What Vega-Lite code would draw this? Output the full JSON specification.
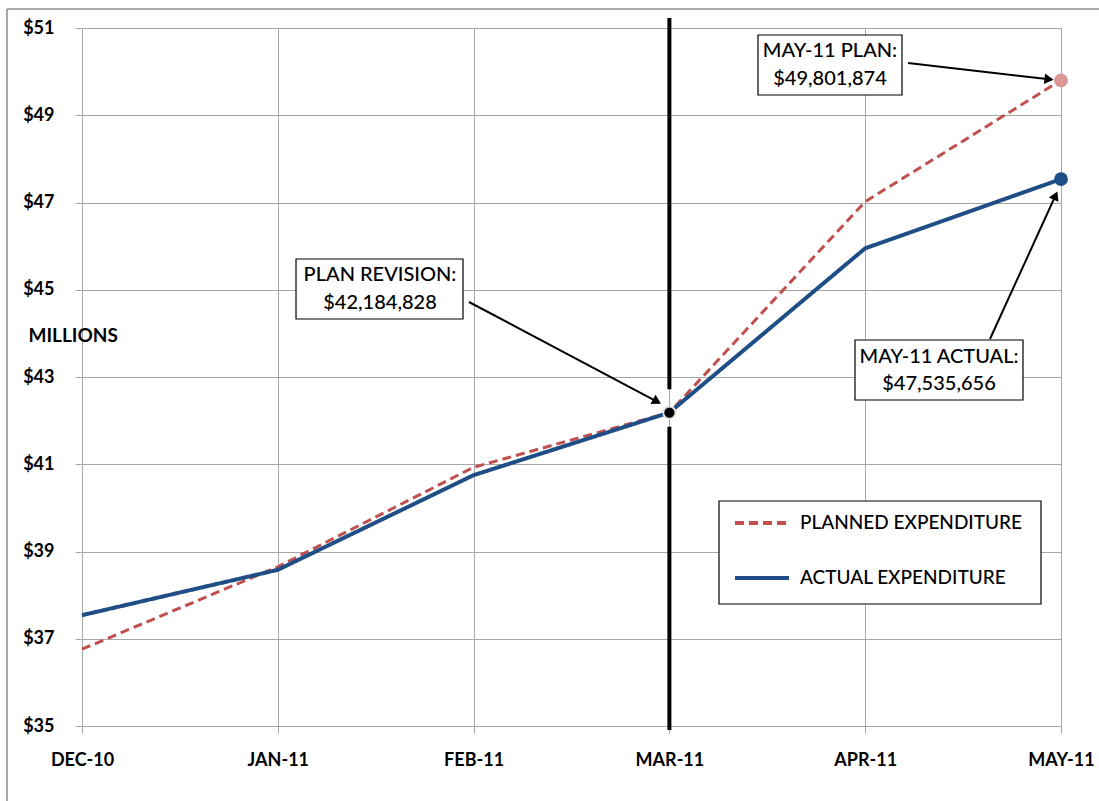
{
  "$schema": "https://vega.github.io/schema/vega-lite/v6.json",
  "width": 979,
  "height": 698,
  "autosize": {"type": "none"},
  "padding": {"left": 82, "top": 28, "right": 38, "bottom": 75},
  "background": "white",
  "config": {
    "view": {"stroke": null},
    "font": "Lato",
    "axis": {
      "gridColor": "#A6A6A6",
      "gridWidth": 1,
      "tickColor": "#A6A6A6",
      "tickSize": 7,
      "domain": false,
      "labelFont": "Lato",
      "labelFontWeight": "bold",
      "labelFontSize": 18,
      "labelColor": "black",
      "labelFlush": false,
      "labelOverlap": false
    },
    "legend": {
      "orient": "none",
      "legendX": 651,
      "legendY": 466,
      "symbolType": "stroke",
      "symbolSize": 2916,
      "symbolStrokeWidth": 4,
      "labelFont": "Lato",
      "labelFontSize": 19,
      "labelFontWeight": 500,
      "labelColor": "black",
      "labelOffset": 9,
      "labelLimit": 0,
      "rowPadding": 16,
      "padding": 0
    }
  },
  "data": {
    "values": [
      {"idx": 0, "month": "DEC-10", "series": "PLANNED EXPENDITURE", "value": 36.76},
      {"idx": 1, "month": "JAN-11", "series": "PLANNED EXPENDITURE", "value": 38.65},
      {"idx": 2, "month": "FEB-11", "series": "PLANNED EXPENDITURE", "value": 40.93},
      {"idx": 3, "month": "MAR-11", "series": "PLANNED EXPENDITURE", "value": 42.184828},
      {"idx": 4, "month": "APR-11", "series": "PLANNED EXPENDITURE", "value": 47.02},
      {"idx": 5, "month": "MAY-11", "series": "PLANNED EXPENDITURE", "value": 49.801874},
      {"idx": 0, "month": "DEC-10", "series": "ACTUAL EXPENDITURE", "value": 37.54},
      {"idx": 1, "month": "JAN-11", "series": "ACTUAL EXPENDITURE", "value": 38.58},
      {"idx": 2, "month": "FEB-11", "series": "ACTUAL EXPENDITURE", "value": 40.75},
      {"idx": 3, "month": "MAR-11", "series": "ACTUAL EXPENDITURE", "value": 42.184828},
      {"idx": 4, "month": "APR-11", "series": "ACTUAL EXPENDITURE", "value": 45.95},
      {"idx": 5, "month": "MAY-11", "series": "ACTUAL EXPENDITURE", "value": 47.535656}
    ]
  },
  "encoding": {
    "x": {
      "field": "idx",
      "type": "quantitative",
      "scale": {"domain": [0, 5], "nice": false, "zero": false},
      "axis": {
        "title": null,
        "values": [0, 1, 2, 3, 4, 5],
        "labelExpr": "['DEC-10','JAN-11','FEB-11','MAR-11','APR-11','MAY-11'][datum.value]",
        "labelPadding": 18,
        "grid": true
      }
    },
    "y": {
      "field": "value",
      "type": "quantitative",
      "scale": {"domain": [35, 51], "nice": false, "zero": false},
      "axis": {
        "values": [35, 37, 39, 41, 43, 45, 47, 49, 51],
        "labelExpr": "'$' + datum.value",
        "labelPadding": 21,
        "grid": true,
        "title": "MILLIONS",
        "titleAngle": 0,
        "titleAlign": "left",
        "titleBaseline": "middle",
        "titleX": -54,
        "titleY": 307,
        "titleFont": "Lato",
        "titleFontSize": 19,
        "titleFontWeight": "bold",
        "titleColor": "black"
      }
    }
  },
  "layer": [
    {
      "transform": [{"filter": "datum.idx == 0 && datum.series == 'ACTUAL EXPENDITURE'"}],
      "mark": {"type": "rule", "color": "#8C8C8C", "strokeWidth": 1.5},
      "encoding": {
        "x": {"datum": -0.3831},
        "y": {"datum": 51.4355},
        "y2": {"datum": 33.2}
      }
    },
    {
      "transform": [{"filter": "datum.idx == 0 && datum.series == 'ACTUAL EXPENDITURE'"}],
      "mark": {"type": "rule", "color": "#8C8C8C", "strokeWidth": 1.5},
      "encoding": {
        "x": {"datum": -0.3831},
        "x2": {"datum": 5.3},
        "y": {"datum": 51.4355}
      }
    },
    {
      "transform": [{"filter": "datum.series == 'PLANNED EXPENDITURE'"}],
      "mark": {"type": "line", "strokeWidth": 3},
      "encoding": {
        "color": {
          "field": "series",
          "type": "nominal",
          "scale": {"domain": ["PLANNED EXPENDITURE", "ACTUAL EXPENDITURE"], "range": ["#C0504D", "#1F4E86"]},
          "legend": {"title": null}
        },
        "strokeDash": {
          "field": "series",
          "type": "nominal",
          "scale": {"domain": ["PLANNED EXPENDITURE", "ACTUAL EXPENDITURE"], "range": [[9, 5], [1, 0]]},
          "legend": {"title": null}
        }
      }
    },
    {
      "transform": [{"filter": "datum.series == 'ACTUAL EXPENDITURE'"}],
      "mark": {"type": "line", "strokeWidth": 4},
      "encoding": {
        "color": {"field": "series", "type": "nominal", "legend": {"title": null}},
        "strokeDash": {"field": "series", "type": "nominal", "legend": {"title": null}}
      }
    },
    {
      "transform": [{"filter": "datum.idx == 0 && datum.series == 'ACTUAL EXPENDITURE'"}],
      "mark": {"type": "rule", "color": "black", "strokeWidth": 4},
      "encoding": {
        "x": {"datum": 3},
        "y": {"datum": 51.229},
        "y2": {"datum": 42.72}
      }
    },
    {
      "transform": [{"filter": "datum.idx == 0 && datum.series == 'ACTUAL EXPENDITURE'"}],
      "mark": {"type": "rule", "color": "black", "strokeWidth": 4},
      "encoding": {
        "x": {"datum": 3},
        "y": {"datum": 41.86},
        "y2": {"datum": 34.91}
      }
    },
    {
      "transform": [{"filter": "datum.idx == 3 && datum.series == 'ACTUAL EXPENDITURE'"}],
      "mark": {"type": "point", "filled": true, "fill": "black", "stroke": "#E0E0E0", "strokeWidth": 2, "size": 150, "opacity": 1}
    },
    {
      "transform": [{"filter": "datum.idx == 5"}],
      "mark": {"type": "point", "filled": true, "size": 190, "opacity": 1, "stroke": null},
      "encoding": {
        "fill": {
          "field": "series",
          "type": "nominal",
          "scale": {"domain": ["PLANNED EXPENDITURE", "ACTUAL EXPENDITURE"], "range": ["#D99694", "#1F4E86"]},
          "legend": null
        }
      }
    },
    {
      "transform": [{"filter": "datum.idx == 0 && datum.series == 'ACTUAL EXPENDITURE'"}],
      "mark": {"type": "rect", "fill": "white", "stroke": "black", "strokeWidth": 1.2},
      "encoding": {
        "x": {"datum": 3.2533}, "x2": {"datum": 4.8979},
        "y": {"datum": 40.158}, "y2": {"datum": 37.797}
      }
    },
    {
      "transform": [{"filter": "datum.idx == 0 && datum.series == 'ACTUAL EXPENDITURE'"}],
      "mark": {"type": "rule", "color": "black", "strokeWidth": 2},
      "encoding": {
        "x": {"datum": 1.9765}, "y": {"datum": 44.719},
        "x2": {"datum": 2.9367}, "y2": {"datum": 42.438}
      }
    },
    {
      "transform": [{"filter": "datum.idx == 0 && datum.series == 'ACTUAL EXPENDITURE'"}],
      "mark": {"type": "point", "shape": "triangle-up", "filled": true, "fill": "black", "strokeWidth": 0, "opacity": 1, "size": 110, "angle": 119},
      "encoding": {"x": {"datum": 2.9367}, "y": {"datum": 42.438}}
    },
    {
      "transform": [{"filter": "datum.idx == 0 && datum.series == 'ACTUAL EXPENDITURE'"}],
      "mark": {"type": "rule", "color": "black", "strokeWidth": 2},
      "encoding": {
        "x": {"datum": 4.2186}, "y": {"datum": 50.198},
        "x2": {"datum": 4.9387}, "y2": {"datum": 49.824}
      }
    },
    {
      "transform": [{"filter": "datum.idx == 0 && datum.series == 'ACTUAL EXPENDITURE'"}],
      "mark": {"type": "point", "shape": "triangle-up", "filled": true, "fill": "black", "strokeWidth": 0, "opacity": 1, "size": 110, "angle": 96.6},
      "encoding": {"x": {"datum": 4.9387}, "y": {"datum": 49.824}}
    },
    {
      "transform": [{"filter": "datum.idx == 0 && datum.series == 'ACTUAL EXPENDITURE'"}],
      "mark": {"type": "rule", "color": "black", "strokeWidth": 2},
      "encoding": {
        "x": {"datum": 4.6374}, "y": {"datum": 43.871},
        "x2": {"datum": 4.972}, "y2": {"datum": 47.16}
      }
    },
    {
      "transform": [{"filter": "datum.idx == 0 && datum.series == 'ACTUAL EXPENDITURE'"}],
      "mark": {"type": "point", "shape": "triangle-up", "filled": true, "fill": "black", "strokeWidth": 0, "opacity": 1, "size": 110, "angle": 24.5},
      "encoding": {"x": {"datum": 4.972}, "y": {"datum": 47.16}}
    },
    {
      "transform": [{"filter": "datum.idx == 0 && datum.series == 'ACTUAL EXPENDITURE'"}],
      "mark": {"type": "rect", "fill": "white", "stroke": "black", "strokeWidth": 1.2},
      "encoding": {
        "x": {"datum": 1.093}, "x2": {"datum": 1.9459},
        "y": {"datum": 45.705}, "y2": {"datum": 44.33}
      }
    },
    {
      "transform": [{"filter": "datum.idx == 0 && datum.series == 'ACTUAL EXPENDITURE'"}],
      "mark": {"type": "rect", "fill": "white", "stroke": "black", "strokeWidth": 1.2},
      "encoding": {
        "x": {"datum": 3.4525}, "x2": {"datum": 4.1879},
        "y": {"datum": 50.84}, "y2": {"datum": 49.464}
      }
    },
    {
      "transform": [{"filter": "datum.idx == 0 && datum.series == 'ACTUAL EXPENDITURE'"}],
      "mark": {"type": "rect", "fill": "white", "stroke": "black", "strokeWidth": 1.2},
      "encoding": {
        "x": {"datum": 3.9479}, "x2": {"datum": 4.8059},
        "y": {"datum": 43.848}, "y2": {"datum": 42.473}
      }
    },
    {
      "transform": [{"filter": "datum.idx == 0 && datum.series == 'ACTUAL EXPENDITURE'"}],
      "mark": {"type": "text", "font": "Lato", "fontSize": 20, "fontWeight": 500, "fill": "black", "align": "center", "baseline": "middle"},
      "encoding": {"x": {"datum": 1.522}, "y": {"datum": 45.338}, "text": {"value": "PLAN REVISION:"}}
    },
    {
      "transform": [{"filter": "datum.idx == 0 && datum.series == 'ACTUAL EXPENDITURE'"}],
      "mark": {"type": "text", "font": "Lato", "fontSize": 20, "fontWeight": 500, "fill": "black", "align": "center", "baseline": "middle"},
      "encoding": {"x": {"datum": 1.522}, "y": {"datum": 44.696}, "text": {"value": "$42,184,828"}}
    },
    {
      "transform": [{"filter": "datum.idx == 0 && datum.series == 'ACTUAL EXPENDITURE'"}],
      "mark": {"type": "text", "font": "Lato", "fontSize": 20, "fontWeight": 500, "fill": "black", "align": "center", "baseline": "middle"},
      "encoding": {"x": {"datum": 3.8202}, "y": {"datum": 50.473}, "text": {"value": "MAY-11 PLAN:"}}
    },
    {
      "transform": [{"filter": "datum.idx == 0 && datum.series == 'ACTUAL EXPENDITURE'"}],
      "mark": {"type": "text", "font": "Lato", "fontSize": 20, "fontWeight": 500, "fill": "black", "align": "center", "baseline": "middle"},
      "encoding": {"x": {"datum": 3.8202}, "y": {"datum": 49.831}, "text": {"value": "$49,801,874"}}
    },
    {
      "transform": [{"filter": "datum.idx == 0 && datum.series == 'ACTUAL EXPENDITURE'"}],
      "mark": {"type": "text", "font": "Lato", "fontSize": 20, "fontWeight": 500, "fill": "black", "align": "center", "baseline": "middle"},
      "encoding": {"x": {"datum": 4.377}, "y": {"datum": 43.458}, "text": {"value": "MAY-11 ACTUAL:"}}
    },
    {
      "transform": [{"filter": "datum.idx == 0 && datum.series == 'ACTUAL EXPENDITURE'"}],
      "mark": {"type": "text", "font": "Lato", "fontSize": 20, "fontWeight": 500, "fill": "black", "align": "center", "baseline": "middle"},
      "encoding": {"x": {"datum": 4.377}, "y": {"datum": 42.84}, "text": {"value": "$47,535,656"}}
    }
  ]
}
